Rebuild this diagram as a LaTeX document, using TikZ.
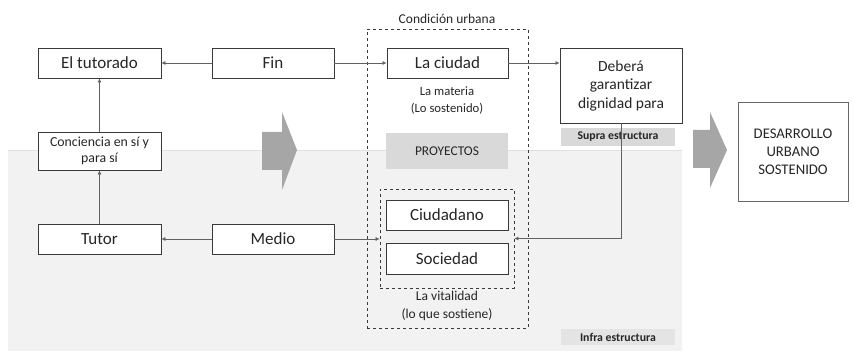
\documentclass[tikz,border=0pt]{standalone}
\usepackage{fontspec}
\setmainfont{Carlito}
\usetikzlibrary{arrows.meta}
\definecolor{boxline}{HTML}{3A3A3A}
\definecolor{txtgray}{HTML}{262626}
\definecolor{bggray}{HTML}{F2F2F2}
\definecolor{tagfill}{HTML}{D9D9D9}
\definecolor{bigarrow}{HTML}{A6A6A6}
\tikzset{
  box/.style={draw=boxline, line width=0.9pt, fill=white, inner sep=0pt,
    text=txtgray, align=center},
  bigtext/.style={font=\fontsize{17}{20}\selectfont},
  midtext/.style={font=\fontsize{15.5}{18.5}\selectfont},
  smalltext/.style={font=\fontsize{13.5}{16}\selectfont},
  tag/.style={fill=tagfill, inner sep=0pt, text=txtgray,
    font=\bfseries\fontsize{11.8}{14}\selectfont},
  dashbox/.style={draw=boxline, dashed, line width=0.8pt, inner sep=0pt},
  conn/.style={draw=boxline!80, line width=0.6pt, -{Latex[length=4pt,width=4pt]}},
  note/.style={text=txtgray, align=center}
}
\begin{document}
\begin{tikzpicture}[x=1pt,y=-1pt]
  \useasboundingbox (0,0) rectangle (853,352);

  % lower band (infra estructura)
  \fill[bggray] (8,150) rectangle (682,351);
  \draw[black!12, line width=0.8pt] (8,150) -- (682,150);

  % big grey arrows
  \fill[bigarrow] (262,132) -- (282,132) -- (282,112) -- (297,150)
    -- (282,190) -- (282,170) -- (262,170) -- cycle;
  \fill[bigarrow] (693,130) -- (710,130) -- (710,112) -- (727,150)
    -- (710,188) -- (710,168) -- (693,168) -- cycle;

  % condicion urbana
  \node[dashbox, minimum width=161pt, minimum height=299pt] (urbana) at (447.5,178.5) {};
  \node[note, font=\fontsize{13.5}{16}\selectfont] (urbanalbl) at (447,19) {Condición urbana};
  \node[dashbox, minimum width=134pt, minimum height=99pt] (vital) at (447,238.5) {};

  % boxes
  \node[box, bigtext, minimum width=123pt, minimum height=30pt] (tutorado) at (99.5,63) {El tutorado};
  \node[box, bigtext, minimum width=122pt, minimum height=30pt] (fin) at (273,63) {Fin};
  \node[box, bigtext, minimum width=121pt, minimum height=30pt] (ciudad) at (447.5,63) {La ciudad};
  \node[box, midtext, minimum width=122pt, minimum height=75pt] (debera) at (621,85.5)
    {Deberá\\garantizar\\dignidad para};
  \node[box, font=\fontsize{13.8}{16}\selectfont, minimum width=123pt, minimum height=38pt]
    (conciencia) at (99.5,151) {Conciencia en sí y\\para sí};
  \node[box, bigtext, minimum width=123pt, minimum height=30pt] (tutor) at (99.5,239) {Tutor};
  \node[box, bigtext, minimum width=122pt, minimum height=30pt] (medio) at (273,239) {Medio};
  \node[box, bigtext, minimum width=122pt, minimum height=30pt] (ciudadano) at (447,215) {Ciudadano};
  \node[box, bigtext, minimum width=122pt, minimum height=31pt] (sociedad) at (447,258.5) {Sociedad};
  \node[box, draw=black!60, font=\fontsize{14.7}{18}\selectfont, minimum width=110pt, minimum height=99pt]
    (desarrollo) at (793,151.5) {DESARROLLO\\URBANO\\SOSTENIDO};

  % grey tags
  \node[fill=tagfill, text=txtgray, inner sep=0pt, font=\fontsize{13.4}{16}\selectfont,
    minimum width=122pt, minimum height=36pt] (proyectos) at (447,151) {PROYECTOS};
  \node[tag, minimum width=114pt, minimum height=18pt] (supra) at (618,137) {Supra estructura};
  \node[tag, fill=tagfill!70, minimum width=114pt, minimum height=16pt] (infra) at (618,337) {Infra estructura};

  % notes
  \node[note, font=\fontsize{12.7}{17}\selectfont] (materia) at (447,100.5) {La materia\\(Lo sostenido)};
  \node[note, font=\fontsize{13.5}{18}\selectfont] (vitalidad) at (447,306) {La vitalidad\\(lo que sostiene)};

  % connectors
  \draw[conn] (fin) -- (tutorado);
  \draw[conn] (fin) -- (ciudad);
  \draw[conn] (ciudad) -- (ciudad -| debera.west);
  \draw[conn] (conciencia) -- (tutorado);
  \draw[conn] (tutor) -- (conciencia);
  \draw[conn] (medio) -- (tutor);
  \draw[conn] (medio.east) -- (medio.east -| vital.west);
  \draw[conn] (debera.south) |- (vital.east);
\end{tikzpicture}
\end{document}
